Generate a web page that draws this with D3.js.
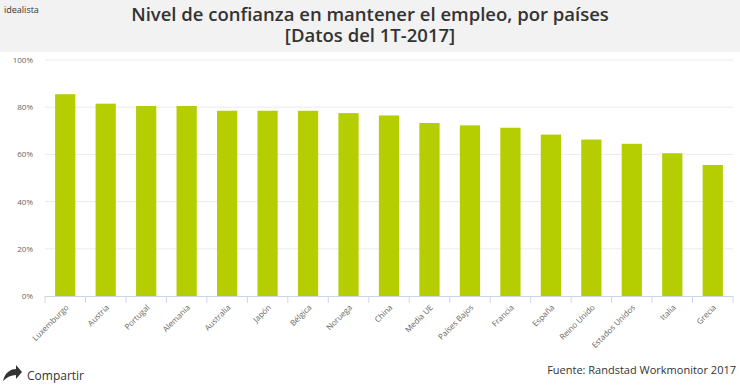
<!DOCTYPE html>
<html>
<head>
<meta charset="utf-8">
<script src="https://cdn.jsdelivr.net/npm/d3@7"></script>
<style>
  body { margin: 0; background: #fff; }
  svg { display: block; font-family: "Open Sans", sans-serif; }
</style>
</head>
<body>
<svg id="chart" width="740" height="389"></svg>
<script>
// data
const paises = ["Luxemburgo", "Austria", "Portugal", "Alemania", "Australia", "Japón", "Bélgica",
  "Noruega", "China", "Media UE", "Países Bajos", "Francia", "España", "Reino Unido",
  "Estados Unidos", "Italia", "Grecia"];
const confianza = [85.5, 81.5, 80.5, 80.5, 78.5, 78.5, 78.5, 77.5, 76.5, 73.3, 72.3, 71.3, 68.4, 66.3, 64.5, 60.5, 55.5];
const yTicks = [0, 20, 40, 60, 80, 100];

const W = 740, H = 389;
const margin = {top: 60, right: 7, bottom: 93, left: 45};
const svg = d3.select("#chart");

// header band
svg.append("rect").attr("x", 0).attr("y", 0).attr("width", W).attr("height", 52).attr("fill", "#f2f2f2");
svg.append("text").attr("x", 4).attr("y", 13).text("idealista")
  .style("font-size", "9px").attr("fill", "#333");
svg.append("text").attr("x", 370).attr("y", 21).attr("text-anchor", "middle")
  .text("Nivel de confianza en mantener el empleo, por países")
  .style("font-size", "18.5px").style("font-weight", "600").attr("fill", "#333");
svg.append("text").attr("x", 370).attr("y", 42).attr("text-anchor", "middle")
  .text("[Datos del 1T-2017]")
  .style("font-size", "18.5px").style("font-weight", "600").attr("fill", "#333");

const x = d3.scaleBand().domain(paises).range([margin.left, W - margin.right]).paddingInner(0.5).paddingOuter(0.25);
const y = d3.scaleLinear().domain([0, 100]).range([H - margin.bottom, margin.top]);

// gridlines
svg.append("g").selectAll("line").data(yTicks.filter(d => d > 0)).enter().append("line")
  .attr("x1", margin.left).attr("x2", W - margin.right)
  .attr("y1", d => y(d)).attr("y2", d => y(d))
  .attr("stroke", "#ebebeb").attr("stroke-width", 1);

// y axis labels
const yAxis = svg.append("g").attr("transform", "translate(" + margin.left + ",0)")
  .call(d3.axisLeft(y).tickValues(yTicks).tickFormat(d => d + "%").tickSize(0).tickPadding(12));
yAxis.select(".domain").remove();
yAxis.selectAll("text").style("font-size", "8px").attr("fill", "#666").attr("font-family", "Open Sans, sans-serif");

// bars
svg.append("g").selectAll("rect").data(paises).enter().append("rect")
  .attr("x", d => x(d))
  .attr("width", x.bandwidth())
  .attr("y", (d, i) => y(confianza[i]))
  .attr("height", (d, i) => y(0) - y(confianza[i]))
  .attr("fill", "#b4ce01");

// x axis line and boundary ticks
const step = x.step();
const bounds = d3.range(paises.length + 1).map(i => margin.left + i * step);
svg.append("line").attr("x1", margin.left).attr("x2", W - margin.right)
  .attr("y1", y(0) + 0.5).attr("y2", y(0) + 0.5).attr("stroke", "#ccd6eb");
svg.append("g").selectAll("line").data(bounds).enter().append("line")
  .attr("x1", d => d).attr("x2", d => d)
  .attr("y1", y(0)).attr("y2", y(0) + 7)
  .attr("stroke", "#ccd6eb");

// x labels rotated
svg.append("g").selectAll("text").data(paises).enter().append("text")
  .attr("transform", d => "translate(" + (x(d) + x.bandwidth() / 2 + 4) + "," + (y(0) + 12) + ") rotate(-45)")
  .attr("text-anchor", "end")
  .text(d => d)
  .style("font-size", "8px").attr("fill", "#666");

// footer
svg.append("path")
  .attr("d", "M3,381 C5,372 11,369 16,369 L16,365 L22,372 L16,379 L16,375 C11,375 7,377 3,381 Z")
  .attr("fill", "#333");
svg.append("text").attr("x", 27).attr("y", 380).text("Compartir")
  .style("font-size", "12px").attr("fill", "#333");
svg.append("text").attr("x", 736).attr("y", 374).attr("text-anchor", "end")
  .text("Fuente: Randstad Workmonitor 2017")
  .style("font-size", "11px").attr("fill", "#333");
</script>
</body>
</html>
